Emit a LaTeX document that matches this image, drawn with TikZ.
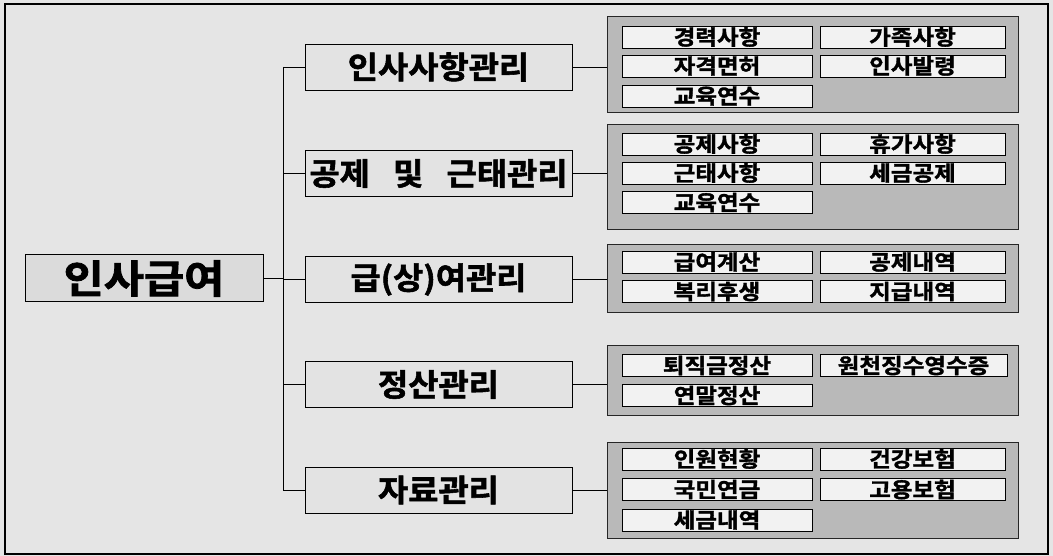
\documentclass[tikz,border=0pt]{standalone}
\usepackage{fontspec}
\newfontfamily\krroot{Noto Sans CJK KR Bold}[FakeBold=2,FakeStretch=1.12]
\newfontfamily\krmid{Noto Sans CJK KR Bold}[FakeBold=1.8,FakeStretch=1.06]
\newfontfamily\kritem{Noto Sans CJK KR Bold}[FakeBold=1.6,FakeStretch=1.12]
\begin{document}
\begin{tikzpicture}[x=1pt,y=-1pt,
  rootbox/.style={draw=black,line width=1pt,fill=gray!28,minimum width=238pt,minimum height=47pt,inner sep=0pt,font=\krroot\fontsize{39}{39}\selectfont},
  midbox/.style={draw=black,line width=0.9pt,fill=gray!22,minimum width=267pt,minimum height=46pt,inner sep=0pt,font=\krmid\fontsize{31}{31}\selectfont},
  grpbox/.style={draw=black!85,line width=1pt,fill=gray!55,inner sep=0pt},
  itembox/.style={draw=black,line width=0.9pt,fill=gray!10,minimum height=22pt,inner sep=0pt,font=\kritem\fontsize{21}{21}\selectfont},
  link/.style={draw=black,line width=0.8pt}]
\useasboundingbox (0,0) rectangle (1053,556);
\fill[gray!20] (0,0) rectangle (1053,556);
\draw[line width=1.2pt] (5,554) -- (5,4) -- (1048,4) -- (1048,554) -- cycle;

\node[rootbox] (root) at (144,278.5) {인사급여};
\node[midbox] (m1) at (438.5,67) {인사사항관리};
\node[midbox] (m2) at (438.5,173.5) {공제\hspace{0.75em}및\hspace{0.75em}근태관리};
\node[midbox] (m3) at (438.5,279.5) {급(상)여관리};
\node[midbox] (m4) at (438.5,384.5) {정산관리};
\node[midbox] (m5) at (438.5,490) {자료관리};

\coordinate (t1) at (283,67);
\coordinate (t5) at (283,490);
\coordinate (tr) at (283,279.5);

% groups
\node[grpbox,minimum width=411pt,minimum height=96pt] (g1) at (812.5,65) {};
\node[grpbox,minimum width=411pt,minimum height=105pt] (g2) at (812.5,177.5) {};
\node[grpbox,minimum width=411pt,minimum height=68pt] (g3) at (812.5,279) {};
\node[grpbox,minimum width=411pt,minimum height=70pt] (g4) at (812.5,380) {};
\node[grpbox,minimum width=411pt,minimum height=96pt] (g5) at (812.5,490) {};

% items group 1
\node[itembox,minimum width=190pt] (a1) at (717,37) {경력사항};
\node[itembox,minimum width=185pt] (a2) at (912.5,37) {가족사항};
\node[itembox,minimum width=190pt] (a3) at (717,66) {자격면허};
\node[itembox,minimum width=185pt] (a4) at (912.5,66) {인사발령};
\node[itembox,minimum width=190pt] (a5) at (717,96) {교육연수};
% group 2
\node[itembox,minimum width=190pt] (b1) at (717,144) {공제사항};
\node[itembox,minimum width=185pt] (b2) at (912.5,144) {휴가사항};
\node[itembox,minimum width=190pt] (b3) at (717,173) {근태사항};
\node[itembox,minimum width=185pt] (b4) at (912.5,173) {세금공제};
\node[itembox,minimum width=190pt] (b5) at (717,202.5) {교육연수};
% group 3
\node[itembox,minimum width=190pt] (c1) at (717,262) {급여계산};
\node[itembox,minimum width=185pt] (c2) at (912.5,262) {공제내역};
\node[itembox,minimum width=190pt] (c3) at (717,291.5) {복리후생};
\node[itembox,minimum width=185pt] (c4) at (912.5,291.5) {지급내역};
% group 4
\node[itembox,minimum width=190pt] (d1) at (717,365.5) {퇴직금정산};
\node[itembox,minimum width=187pt] (d2) at (913.5,365.5) {원천징수영수증};
\node[itembox,minimum width=190pt] (d3) at (717,395.5) {연말정산};
% group 5
\node[itembox,minimum width=190pt] (e1) at (717,459) {인원현황};
\node[itembox,minimum width=185pt] (e2) at (912.5,459) {건강보험};
\node[itembox,minimum width=190pt] (e3) at (717,489.5) {국민연금};
\node[itembox,minimum width=185pt] (e4) at (912.5,489.5) {고용보험};
\node[itembox,minimum width=190pt] (e5) at (717,520) {세금내역};

% connectors
\draw[link] (t1) -- (t5);
\draw[link] (root.east) -- (root.east -| tr);
\draw[link] (t1) -- (m1.west);
\draw[link] (m2.west -| tr) -- (m2.west);
\draw[link] (m3.west -| tr) -- (m3.west);
\draw[link] (m4.west -| tr) -- (m4.west);
\draw[link] (t5) -- (m5.west);
\draw[link] (m1.east) -- (m1.east -| g1.west);
\draw[link] (m2.east) -- (m2.east -| g2.west);
\draw[link] (m3.east) -- (m3.east -| g3.west);
\draw[link] (m4.east) -- (m4.east -| g4.west);
\draw[link] (m5.east) -- (m5.east -| g5.west);
\end{tikzpicture}
\end{document}
